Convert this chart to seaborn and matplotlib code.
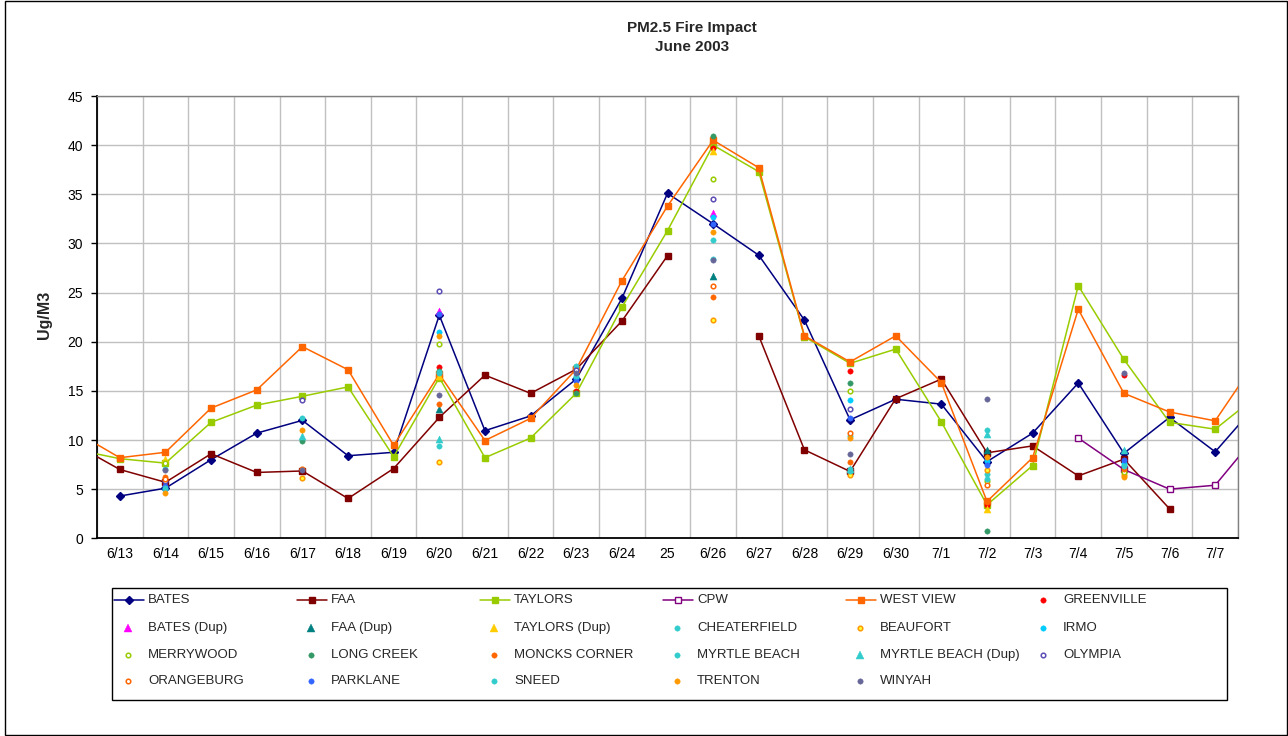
import matplotlib
matplotlib.use("Agg")
import matplotlib.pyplot as plt
from matplotlib.lines import Line2D
from matplotlib.patches import Rectangle
from matplotlib.ticker import FixedLocator
import numpy as np
import pandas as pd
import seaborn as sns

# ---------------- data ----------------
# first (6/12) and last (7/8) days lie just outside the visible axis; only their connecting lines show
dates = ['6/12', '6/13', '6/14', '6/15', '6/16', '6/17', '6/18', '6/19', '6/20', '6/21',
         '6/22', '6/23', '6/24', '6/25', '6/26', '6/27', '6/28', '6/29', '6/30', '7/1',
         '7/2', '7/3', '7/4', '7/5', '7/6', '7/7', '7/8']
tick_labels = ['6/13', '6/14', '6/15', '6/16', '6/17', '6/18', '6/19', '6/20', '6/21', '6/22',
               '6/23', '6/24', '25', '6/26', '6/27', '6/28', '6/29', '6/30', '7/1', '7/2',
               '7/3', '7/4', '7/5', '7/6', '7/7']

bates = [None, 4.3, 5.1, 8.0, 10.7, 12.0, 8.4, 8.75, 22.7, 10.95, 12.45, 16.2, 24.4, 35.1,
         32.0, 28.8, 22.2, 12.05, 14.15, 13.65, 7.8, 10.7, 15.8, 8.65, 12.3, 8.8, 14.1]
faa = [9.6, 7.0, 5.7, 8.6, 6.7, 6.85, 4.05, 7.1, 12.3, 16.6, 14.75, 17.2, 22.1, 28.75,
       None, 20.6, 9.0, 6.8, 14.2, 16.2, 8.7, 9.4, 6.35, 8.05, 3.0, None, None]
taylors = [9.06, 8.1, 7.65, 11.8, 13.55, 14.45, 15.4, 8.3, 16.35, 8.2, 10.2, 14.75, 23.5, 31.3,
           40.0, 37.3, 20.5, 17.8, 19.25, 11.85, 3.4, 7.4, 25.7, 18.2, 11.8, 11.1, 14.8]
cpw = [None] * 22 + [10.2, 7.0, 5.0, 5.4, 11.0]
west_view = [10.9, 8.2, 8.75, 13.25, 15.1, 19.5, 17.15, 9.45, 16.7, 9.95, 12.2, 17.2, 26.2, 33.8,
             40.5, 37.7, 20.6, 17.95, 20.6, 15.85, 3.75, 8.2, 23.3, 14.75, 12.85, 11.95, 18.8]

sample_dates = ['6/14', '6/17', '6/20', '6/23', '6/26', '6/29', '7/2', '7/5']
greenville = [None, None, 17.4, 15.0, 39.7, 17.0, 3.4, 16.6]
bates_dup = [None, None, 23.1, None, 33.1, None, None, None]
faa_dup = [None, None, 13.2, None, 26.7, None, 9.0, None]
taylors_dup = [8.1, None, 16.5, None, 39.4, None, 2.95, None]
cheaterfield = [7.1, 12.2, 16.8, 17.5, 30.3, 10.4, 6.5, 7.5]
beaufort = [None, 6.1, 7.8, None, 22.2, 6.45, 6.9, 6.45]
irmo = [5.0, None, 21.0, 16.3, 32.7, 14.1, 7.9, 7.7]
merrywood = [7.7, None, 19.8, None, 36.6, 15.0, 5.8, 6.7]
long_creek = [None, 9.85, 17.0, 14.8, 40.9, 15.85, 0.75, None]
moncks_corner = [6.2, None, 13.7, None, 24.5, 7.8, 3.7, 7.0]
myrtle_beach = [None, None, 9.4, None, 28.4, 6.8, 11.0, None]
myrtle_beach_dup = [None, 10.45, 10.1, None, None, 7.0, 10.6, 9.0]
olympia = [5.8, 14.1, 25.2, 17.1, 34.5, 13.15, None, None]
orangeburg = [6.0, 7.0, None, None, 25.7, 10.75, 5.4, None]
parklane = [5.3, None, 22.8, 16.0, 32.0, 12.2, 7.45, 8.0]
sneed = [5.1, None, 16.9, 16.5, None, 7.0, 6.0, 7.4]
trenton = [4.6, 11.0, 20.6, 15.6, 31.2, 10.25, 8.25, 6.25]
winyah = [6.9, 6.95, 14.6, 16.8, 28.3, 8.6, 14.2, 16.8]

# ---------------- styles ----------------
# (name, values, color, marker, markerfacecolor)
line_series = [
    ('BATES', bates, '#000080', 'D', '#000080'),
    ('FAA', faa, '#800000', 's', '#800000'),
    ('TAYLORS', taylors, '#99CC00', 's', '#99CC00'),
    ('CPW', cpw, '#800080', 's', 'white'),
    ('WEST VIEW', west_view, '#FF6600', 's', '#FF6600'),
]
# (name, values, edge color, marker, face color)
point_series = [
    ('GREENVILLE', greenville, '#FF0000', 'o', '#FF0000'),
    ('BATES (Dup)', bates_dup, '#FF00FF', '^', '#FF00FF'),
    ('FAA (Dup)', faa_dup, '#008080', '^', '#008080'),
    ('TAYLORS (Dup)', taylors_dup, '#FFCC00', '^', '#FFCC00'),
    ('CHEATERFIELD', cheaterfield, '#33CCCC', 'o', '#33CCCC'),
    ('BEAUFORT', beaufort, '#FF9900', 'o', '#FFFF33'),
    ('IRMO', irmo, '#00CCFF', 'o', '#00CCFF'),
    ('MERRYWOOD', merrywood, '#99CC00', 'o', 'white'),
    ('LONG CREEK', long_creek, '#339966', 'o', '#339966'),
    ('MONCKS CORNER', moncks_corner, '#FF6600', 'o', '#FF6600'),
    ('MYRTLE BEACH', myrtle_beach, '#33CCCC', 'o', '#33CCCC'),
    ('MYRTLE BEACH (Dup)', myrtle_beach_dup, '#33CCCC', '^', '#33CCCC'),
    ('OLYMPIA', olympia, '#5B4DB5', 'o', 'white'),
    ('ORANGEBURG', orangeburg, '#FF6600', 'o', 'white'),
    ('PARKLANE', parklane, '#3366FF', 'o', '#3366FF'),
    ('SNEED', sneed, '#33CCCC', 'o', '#33CCCC'),
    ('TRENTON', trenton, '#FF9900', 'o', '#FF9900'),
    ('WINYAH', winyah, '#666699', 'o', '#666699'),
]

# ---------------- tables ----------------
pos = {d: i - 1 for i, d in enumerate(dates)}
rows = []
for name, vals, *_ in line_series:
    seg = 0
    for d, v in zip(dates, vals):
        if v is None:
            seg += 1
            continue
        rows.append({'site': name, 'date': d, 'x': pos[d], 'value': v, 'seg': seg})
lines_df = pd.DataFrame(rows)

prow = []
for name, vals, *_ in point_series:
    for d, v in zip(sample_dates, vals):
        if v is not None:
            prow.append({'site': name, 'date': d, 'x': pos[d], 'value': v})
points_df = pd.DataFrame(prow)

# ---------------- figure ----------------
sns.set_style('white')
plt.rcParams['font.family'] = ['Liberation Sans', 'DejaVu Sans']

W, H = 1288, 736
fig = plt.figure(figsize=(W / 100, H / 100), dpi=100)


def fx(px):
    return px / W


def fy(py):
    return 1 - py / H


left, right, top, bottom = 97, 1238, 96, 538.3
ax = fig.add_axes([fx(left), fy(bottom), fx(right - left), (bottom - top) / H])
ax.set_axisbelow(True)

for name, vals, color, marker, mfc in line_series:
    d = lines_df[lines_df['site'] == name]
    sns.lineplot(data=d, x='x', y='value', units='seg', estimator=None, sort=False,
                 color=color, linewidth=1.1, marker=marker,
                 markersize=4.4 if marker == 'D' else 4.6,
                 markerfacecolor=mfc, markeredgecolor=color, markeredgewidth=1.0,
                 legend=False, ax=ax, zorder=3)

for name, vals, color, marker, face in point_series:
    d = points_df[points_df['site'] == name]
    hollow = face != color
    size = 26 if marker == '^' else (11 if hollow else 15)
    sns.scatterplot(data=d, x='x', y='value', marker=marker, s=size,
                    color=face, edgecolor=color, linewidth=1.1 if hollow else 0.3,
                    legend=False, ax=ax, zorder=4)

ax.set_xlim(-0.5, 24.5)
ax.set_ylim(0, 45)
ax.set_yticks(range(0, 46, 5))
ax.set_xticks(range(len(tick_labels)))
ax.set_xticklabels(tick_labels)
ax.xaxis.set_minor_locator(FixedLocator(np.arange(-0.5, 25, 1.0)))
ax.tick_params(axis='x', which='major', length=0, pad=6, labelsize=10, colors='black')
ax.tick_params(axis='x', which='minor', length=4, width=1, direction='out', color='black')
ax.tick_params(axis='y', which='major', length=4, width=1, direction='out', pad=6,
               labelsize=10, colors='black', left=True)
ax.grid(axis='x', which='minor', color='#C0C0C0', linewidth=1.0)
ax.grid(axis='y', which='major', color='#C0C0C0', linewidth=1.0)
ax.grid(axis='x', which='major', visible=False)
for s in ('left', 'bottom'):
    ax.spines[s].set_color('black')
    ax.spines[s].set_linewidth(1.3)
for s in ('top', 'right'):
    ax.spines[s].set_color('#808080')
    ax.spines[s].set_linewidth(1.0)
ax.set_xlabel('')
ax.set_ylabel('Ug/M3', fontsize=11.5, fontweight='bold')
ax.yaxis.set_label_coords((52 - left) / (right - left), 0.505)

fig.suptitle('PM2.5 Fire Impact\nJune 2003', x=fx(692), y=fy(21), va='top',
             fontsize=11, fontweight='bold', linespacing=1.45)

# ---------------- legend (Excel-style grid, row-major) ----------------
lx0, lx1, ly0, ly1 = 112, 1227, 588, 700
fig.add_artist(Rectangle((fx(lx0), fy(ly1)), fx(lx1 - lx0), (ly1 - ly0) / H,
                         transform=fig.transFigure, fill=False, edgecolor='black',
                         linewidth=1.0))
order = ['BATES', 'FAA', 'TAYLORS', 'CPW', 'WEST VIEW', 'GREENVILLE',
         'BATES (Dup)', 'FAA (Dup)', 'TAYLORS (Dup)', 'CHEATERFIELD', 'BEAUFORT', 'IRMO',
         'MERRYWOOD', 'LONG CREEK', 'MONCKS CORNER', 'MYRTLE BEACH', 'MYRTLE BEACH (Dup)', 'OLYMPIA',
         'ORANGEBURG', 'PARKLANE', 'SNEED', 'TRENTON', 'WINYAH']
styles = {s[0]: ('line',) + tuple(s[2:]) for s in line_series}
styles.update({s[0]: ('point',) + tuple(s[2:]) for s in point_series})
row_y = [600, 628, 655, 681]
for i, name in enumerate(order):
    r, c = divmod(i, 6)
    tx = 148 + 183 * c
    y = row_y[r]
    kind, color, marker, face = styles[name]
    if kind == 'line':
        fig.add_artist(Line2D([fx(tx - 34), fx(tx - 4)], [fy(y), fy(y)], color=color,
                              linewidth=1.1, transform=fig.transFigure))
        fig.add_artist(Line2D([fx(tx - 19)], [fy(y)], marker=marker, color=color,
                              markersize=4.4 if marker == 'D' else 4.6, markerfacecolor=face,
                              markeredgecolor=color, markeredgewidth=1.0,
                              transform=fig.transFigure))
    else:
        hollow = face != color
        fig.add_artist(Line2D([fx(tx - 20)], [fy(y)], marker=marker, linestyle='none',
                              markersize=5.2 if marker == '^' else (3.3 if hollow else 3.9),
                              markerfacecolor=face, markeredgecolor=color,
                              markeredgewidth=1.1 if hollow else 0.3,
                              transform=fig.transFigure))
    fig.text(fx(tx), fy(y), name, fontsize=9.5, va='center', ha='left')

# outer chart border
fig.add_artist(Rectangle((fx(5), fy(735)), fx(1287 - 5), 734 / H, transform=fig.transFigure,
                         fill=False, edgecolor='black', linewidth=1.0))

fig.savefig('out.png', dpi=100)
